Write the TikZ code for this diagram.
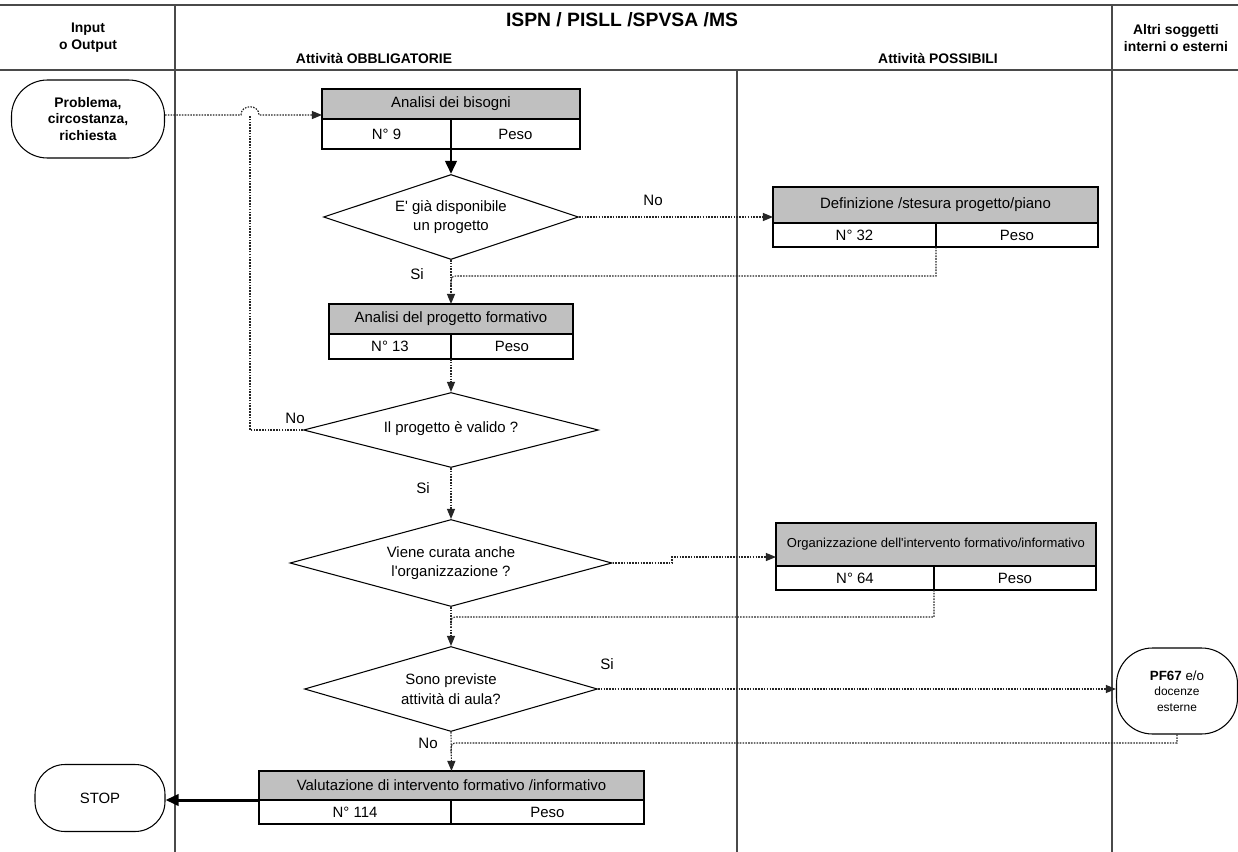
\documentclass[tikz,border=0pt]{standalone}
\usepackage{fontspec}
\setmainfont{Liberation Sans}
\usetikzlibrary{shapes.geometric,arrows.meta,calc}

\definecolor{hdrgray}{HTML}{C0C0C0}
\definecolor{laneline}{HTML}{4A4A4A}
\newcommand{\fsz}[2]{\fontsize{#1}{#2}\selectfont}

\tikzset{
  wd/.style={minimum width=#1*0.02cm},
  ht/.style={minimum height=#1*0.02cm},
  bodycell/.style={draw=black, line width=0.6pt, inner sep=0pt, outer sep=0pt,
                   anchor=north west, font=\fsz{8.5}{10}},
  hdrcell/.style={bodycell, fill=hdrgray},
  decision/.style={diamond, draw=black, line width=0.6pt, aspect=3.5,
                   inner sep=0pt, align=center, font=\fsz{8.5}{10.8}},
  terminal/.style={rectangle, draw=black, line width=0.6pt,
                   rounded corners=0.6cm, align=center, inner sep=0pt},
  lane/.style={draw=laneline, line width=0.6pt},
  flow/.style={draw=black!85, line width=0.65pt, dash pattern=on 0.9pt off 0.7pt},
  arr/.style={-{Triangle[length=5.8pt,width=4.6pt]}},
  boldflow/.style={draw=black, line width=1.7pt, -{Triangle[length=7.5pt,width=6.5pt]}},
  lbl/.style={font=\fsz{8.6}{10}, inner sep=0pt},
  lanehead/.style={font=\bfseries\fsz{7.9}{9.6}, align=center, inner sep=0pt}
}

\begin{document}
\begin{tikzpicture}[x=0.02cm, y=-0.02cm]
\path[use as bounding box, fill=white] (0,0) rectangle (1238,852);

% swimlane grid
\draw[lane] (0,5) -- (1238,5);
\draw[lane] (0,70) -- (1238,70);
\draw[lane] (175,5) -- (175,852);
\draw[lane] (737,70) -- (737,852);
\draw[lane] (1112,5) -- (1112,852);

% lane headings
\node[lanehead] (hin) at (88,38) {Input\\o Output};
\node[font=\bfseries\fsz{11}{13}, inner sep=0pt] (htitle) at (622,20) {ISPN / PISLL /SPVSA /MS};
\node[lanehead] (hobb) at (374,58) {Attività OBBLIGATORIE};
\node[lanehead] (hpos) at (938,58) {Attività POSSIBILI};
\node[lanehead] (halt) at (1176,38) {Altri soggetti\\interni o esterni};

% start
\node[terminal, rounded corners=0.72cm, wd=153, ht=78, font=\bfseries\fsz{7.9}{9.6}] (t1) at (88,119)
  {Problema,\\circostanza,\\richiesta};

% activity: needs analysis
\node[hdrcell, wd=258, ht=30] (b1) at (322,89) {Analisi dei bisogni};
\node[bodycell, wd=129, ht=30] (b1n) at (322,119) {N° 9};
\node[bodycell, wd=129, ht=30] (b1p) at (451,119) {Peso};

% decision: project available
\node[decision, wd=255, ht=85] (d1) at (451,217) {E\textquotesingle{} già disponibile\\un progetto};

% activity: project drafting
\node[hdrcell, wd=325, ht=36] (b2) at (773,187) {Definizione /stesura progetto/piano};
\node[bodycell, wd=163, ht=24] (b2n) at (773,223) {N° 32};
\node[bodycell, wd=162, ht=24] (b2p) at (936,223) {Peso};

% activity: project analysis
\node[hdrcell, wd=244, ht=30] (b3) at (329,304) {Analisi del progetto formativo};
\node[bodycell, wd=122, ht=25] (b3n) at (329,334) {N° 13};
\node[bodycell, wd=122, ht=25] (b3p) at (451,334) {Peso};

% decision: project valid
\node[decision, wd=295, ht=75] (d2) at (451,430) {\raisebox{3pt}{Il progetto è valido ?}};

% decision: organisation
\node[decision, wd=322, ht=87] (d3) at (451,563) {Viene curata anche\\l\textquotesingle{}organizzazione ?};

% activity: organisation
\node[hdrcell, wd=320, ht=43, font=\fsz{7.4}{9}] (b4) at (776,523)
  {Organizzazione dell\textquotesingle{}intervento formativo/informativo};
\node[bodycell, wd=158, ht=24] (b4n) at (776,566) {N° 64};
\node[bodycell, wd=162, ht=24] (b4p) at (934,566) {Peso};

% decision: classroom activities
\node[decision, wd=293, ht=85, font=\fsz{8.5}{11.5}] (d4) at (451,689) {Sono previste\\attività di aula?};

% external teaching
\node[terminal, rounded corners=0.72cm, wd=121, ht=86, font=\fsz{6.8}{8.8}] (t2) at (1177,691)
  {{\fsz{7.6}{8.8}\bfseries PF67 \mdseries e/o}\\docenze\\esterne};

% activity: evaluation
\node[hdrcell, wd=385, ht=29] (b5) at (259,771) {Valutazione di intervento formativo /informativo};
\node[bodycell, wd=192, ht=24] (b5n) at (259,800) {N° 114};
\node[bodycell, wd=193, ht=24] (b5p) at (451,800) {Peso};

% end
\node[terminal, wd=130, ht=67, font=\fsz{8.5}{10}] (t3) at (100,798) {STOP};

% junction points
\coordinate (j1) at (250,115);
\coordinate (k2) at (459,276); \coordinate (j2) at (451,286);
\coordinate (k3) at (459,617); \coordinate (j3) at (451,627);
\coordinate (k4) at (459,743); \coordinate (j4) at (451,753);
\coordinate (s3) at (672,557);

% connectors
\draw[flow, arr] (t1.east |- j1) -- ($(j1)+(-9,0)$)
  .. controls ($(j1)+(-9,-11)$) and ($(j1)+(9,-11)$) .. ($(j1)+(9,0)$) -- (b1.west |- j1);
\draw[boldflow] (b1p.south west) -- (d1.north);
\draw[flow, arr] (d1.east) -- (b2.west |- d1.east);
\draw[flow] (b2p.south west) |- (k2) .. controls (j2 |- k2) .. (j2);
\draw[flow, arr] (d1.south) -- (b3.north);
\draw[flow, arr] (b3p.south west) -- (d2.north);
\draw[flow] (d2.west) -| (j1);
\draw[flow, arr] (d2.south) -- (d3.north);
\draw[flow, arr] (d3.east) -| (s3) -- (b4.west |- s3);
\draw[flow] (b4p.south west) |- (k3) .. controls (j3 |- k3) .. (j3);
\draw[flow, arr] (d3.south) -- (d4.north);
\draw[flow, arr] (d4.east) -- (t2.west |- d4.east);
\draw[flow] (t2.south) |- (k4) .. controls (j4 |- k4) .. (j4);
\draw[flow, arr] (d4.south) -- (b5.north);
\draw[boldflow] (b5.south west) -- (t3.east |- b5.south west);

% branch labels
\node[lbl] (lno1) at (653,200) {No};
\node[lbl] (lsi1) at (417,274) {Si};
\node[lbl] (lno2) at (295,418) {No};
\node[lbl] (lsi2) at (423,488) {Si};
\node[lbl] (lsi3) at (607,664) {Si};
\node[lbl] (lno3) at (428,743) {No};
\end{tikzpicture}
\end{document}
